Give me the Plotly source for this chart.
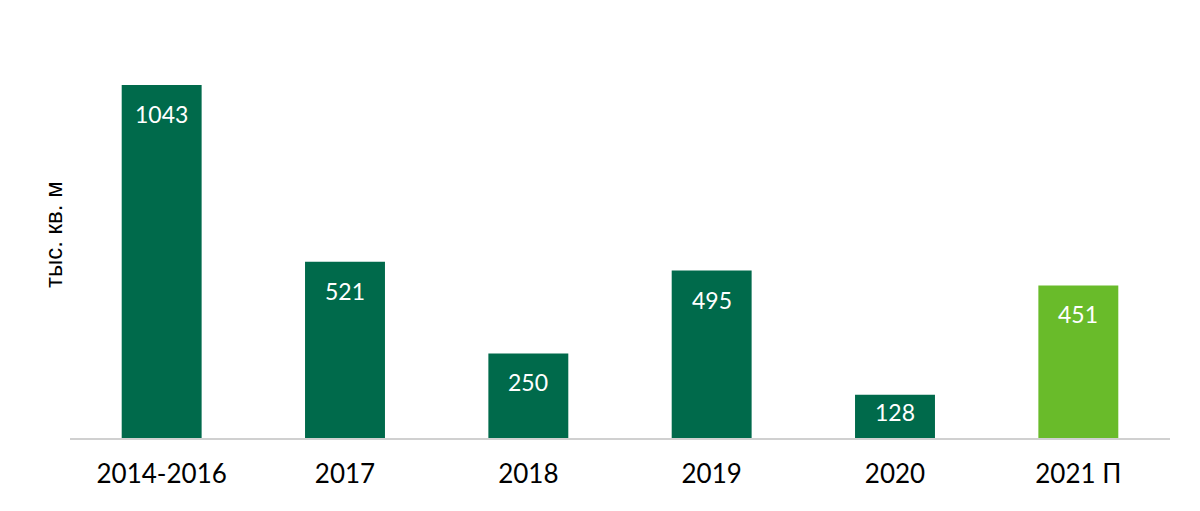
import plotly.graph_objects as go

categories = ["2014-2016", "2017", "2018", "2019", "2020", "2021 П"]
values = [1043, 521, 250, 495, 128, 451]
bar_colors = ["#006A4B", "#006A4B", "#006A4B", "#006A4B", "#006A4B", "#69BB2A"]
y_title = "тыс. кв. м"

Y_MAX = 1200
PLOT_H = 406  # px height of plot area

fig = go.Figure()
fig.add_trace(go.Bar(
    x=categories, y=values,
    marker=dict(color=bar_colors, line=dict(width=0)),
    width=0.436,
    hoverinfo="skip",
))

for i, v in enumerate(values):
    bar_px = v * PLOT_H / Y_MAX
    shift = -min(29, bar_px / 2 - 4)
    fig.add_annotation(
        x=i, y=v, text=str(v), showarrow=False,
        yanchor="middle", yshift=shift,
        font=dict(family="Lato, 'Liberation Sans', sans-serif", size=23, color="white"),
    )

fig.add_annotation(
    x=0, xref="paper", y=0.5, yref="paper", text=y_title, showarrow=False,
    textangle=-90, xshift=-17, xanchor="center", yanchor="middle",
    font=dict(family="'Liberation Sans', Arial, sans-serif", size=24, color="black"),
)

fig.update_layout(
    width=1200, height=511,
    margin=dict(l=62, r=38, t=24, b=81),
    paper_bgcolor="white", plot_bgcolor="white",
    showlegend=False,
    xaxis=dict(
        type="category",
        showline=True, linecolor="#D0D0D0", linewidth=2,
        ticks="", showgrid=False, zeroline=False,
        ticklabelstandoff=12,
        tickfont=dict(family="Lato, 'Liberation Sans', sans-serif", size=26, color="black"),
        range=[-0.5, 5.5],
    ),
    yaxis=dict(
        range=[0, Y_MAX], showgrid=False, zeroline=False,
        showticklabels=False, ticks="", showline=False,
    ),
)

fig.write_html("out.html")
